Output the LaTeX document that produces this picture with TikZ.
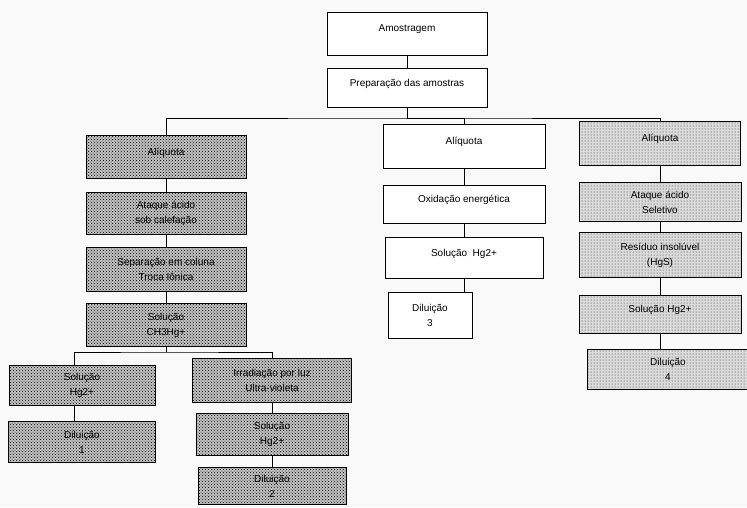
\documentclass[tikz,border=0pt]{standalone}
\usepackage{fontspec}
\setmainfont{Liberation Sans}
\usepackage{tikz}
\usetikzlibrary{patterns}
\tikzstyle{wcell} = [rectangle, draw, fill=white, line width=1pt, text centered, align=center, font=\fontsize{10}{15}\selectfont]
\tikzstyle{dcell} = [wcell, fill=gray!48, postaction={pattern=crosshatch dots, pattern color=black}]
\tikzstyle{lcell} = [wcell, fill=gray!28, postaction={pattern=dots, pattern color=black!85}]
\tikzstyle{oneline} = [text depth=11pt]
\tikzstyle{line} = [draw, line width=0.8pt]

\begin{document}
\begin{tikzpicture}[x=1pt, y=-1pt, node distance=56pt]
    \fill[gray!5] (0,0) rectangle (747,507);
    \useasboundingbox (0,0) rectangle (747,507);

    % tronco comum
    \node[wcell, oneline, minimum width=160pt, minimum height=43pt] (amost) at (407,34) {Amostragem};
    \node[wcell, oneline, below of=amost, node distance=54pt, minimum width=160pt, minimum height=39pt] (prep) {Preparação das amostras};

    % ramo esquerdo
    \node[dcell, oneline, minimum width=160pt, minimum height=43pt] (aliqL) at (166,157) {Alíquota};
    \node[dcell, below of=aliqL, minimum width=160pt, minimum height=42pt] (ataqL) {Ataque ácido\\sob calefação};
    \node[dcell, below of=ataqL, minimum width=160pt, minimum height=44pt] (sepL) {Separação em coluna\\Troca Iônica};
    \node[dcell, below of=sepL, minimum width=160pt, minimum height=43pt] (solCH) {Solução\\CH3Hg+};
    \node[dcell, minimum width=146pt, minimum height=40pt] (solL) at (82,385) {Solução\\Hg2+};
    \node[dcell, below of=solL, node distance=57pt, minimum width=147pt, minimum height=41pt] (dil1) {Diluição\\1};
    \node[dcell, minimum width=159pt, minimum height=44pt] (irr) at (272,380) {Irradiação por luz\\Ultra-violeta};
    \node[dcell, below of=irr, node distance=54pt, minimum width=152pt, minimum height=42pt] (solM2) {Solução\\Hg2+};
    \node[dcell, below of=solM2, node distance=52pt, minimum width=148pt, minimum height=37pt] (dil2) {Diluição\\2};

    % ramo central
    \node[wcell, oneline, minimum width=162pt, minimum height=44pt] (aliqM) at (464,146) {Alíquota};
    \node[wcell, oneline, below of=aliqM, node distance=58pt, minimum width=162pt, minimum height=38pt] (oxid) {Oxidação energética};
    \node[wcell, oneline, below of=oxid, node distance=54pt, minimum width=158pt, minimum height=41pt] (sol3) {Solução\ \ Hg2+};
    \node[wcell, minimum width=84pt, minimum height=46pt] (dil3) at (430,315) {Diluição\\3};

    % ramo direito
    \node[lcell, oneline, minimum width=161pt, minimum height=44pt] (aliqR) at (660,143) {Alíquota};
    \node[lcell, below of=aliqR, node distance=59pt, minimum width=162pt, minimum height=39pt] (ataqR) {Ataque ácido\\Seletivo};
    \node[lcell, below of=ataqR, node distance=53pt, minimum width=162pt, minimum height=45pt] (resid) {Resíduo insolúvel\\(HgS)};
    \node[lcell, oneline, below of=resid, node distance=59pt, minimum width=162pt, minimum height=38pt] (solR) {Solução Hg2+};
    \node[lcell, below of=solR, node distance=55pt, xshift=8pt, minimum width=162pt, minimum height=40pt] (dil4) {Diluição\\4};

    \coordinate (busA) at ([yshift=-10pt]prep.south);
    \coordinate (busB) at ([yshift=-5pt]solCH.south);
    \coordinate[xshift=-8pt] (solLn) at (solL.north);
    \coordinate[xshift=-8pt] (solLs) at (solL.south);

    \path[line] (amost) -- (prep);
    \path[line] (prep) -- (busA);
    \path[line] (aliqL.north) |- (busA) -| (aliqR.north);
    \path[line] (busA) -| (aliqM.north);

    \path[line] (aliqL) -- (ataqL);
    \path[line] (ataqL) -- (sepL);
    \path[line] (sepL) -- (solCH);
    \path[line] (solCH) -- (busB);
    \path[line] (solLn) |- (busB) -| (irr.north);
    \path[line] (solLs) -- (solLs |- dil1.north);
    \path[line] (irr) -- (solM2);
    \path[line] (solM2) -- (dil2);

    \path[line] (aliqM) -- (oxid);
    \path[line] (oxid) -- (sol3);
    \path[line] (sol3.south) -- (sol3.south |- dil3.north);

    \path[line] (aliqR) -- (ataqR);
    \path[line] (ataqR) -- (resid);
    \path[line] (resid) -- (solR);
    \path[line] (solR.south) -- (solR.south |- dil4.north);
\end{tikzpicture}
\end{document}
